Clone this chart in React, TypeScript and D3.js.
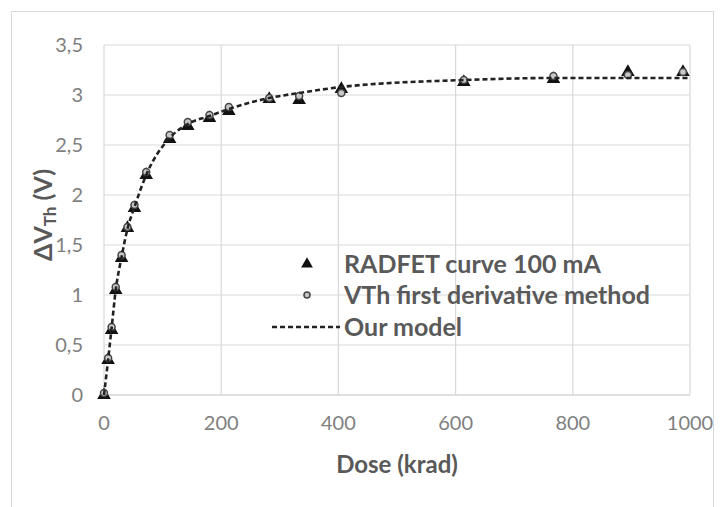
import React from "react";
import * as d3 from "d3";

// dose in krad
const doses = [0, 7, 13, 20, 30, 40, 52, 72, 112, 143, 180, 213, 282, 333, 405, 614, 767, 894, 988];
const radfet = [0, 0.35, 0.65, 1.05, 1.37, 1.67, 1.87, 2.2, 2.56, 2.69, 2.77, 2.84, 2.96, 2.95, 3.06, 3.13, 3.16, 3.23, 3.23];
const derivative = [0.02, 0.37, 0.68, 1.08, 1.4, 1.68, 1.9, 2.23, 2.6, 2.73, 2.8, 2.88, 2.97, 2.99, 3.02, 3.15, 3.19, 3.2, 3.23];
const modelDoses = [0, 7, 13, 20, 30, 40, 52, 72, 112, 143, 180, 213, 282, 333, 405, 614, 767, 894, 1000];
const model = [0, 0.35, 0.67, 1.05, 1.38, 1.66, 1.88, 2.2, 2.57, 2.71, 2.79, 2.86, 2.97, 3.02, 3.08, 3.15, 3.17, 3.17, 3.17];

const xTicks = [0, 200, 400, 600, 800, 1000];
const yTicks = [0, 0.5, 1, 1.5, 2, 2.5, 3, 3.5];
const legendLabels = ["RADFET curve 100 mA", "VTh first derivative method", "Our model"];

const font = "Lato, 'Open Sans', sans-serif";

export default function App() {
  const width = 721, height = 507;
  const margin = { top: 45, right: 31, bottom: 112, left: 104 };

  const x = d3.scaleLinear().domain([0, 1000]).range([margin.left, width - margin.right]);
  const y = d3.scaleLinear().domain([0, 3.5]).range([height - margin.bottom, margin.top]);

  const line = d3
    .line<number>()
    .x((d, i) => x(modelDoses[i]))
    .y((d) => y(d))
    .curve(d3.curveMonotoneX);

  const tri = d3.symbol().type(d3.symbolTriangle).size(80)() as string;

  const fmt = (v: number) => String(v).replace(".", ",");

  return (
    <div style={{ position: "absolute", left: 0, top: 0 }}>
      <svg width={width} height={height} style={{ display: "block", background: "#fff" }}>
        <rect x={11.5} y={11.5} width={702} height={520} fill="none" stroke="#d9d9d9" />

        {/* grid */}
        {yTicks.map((t) => (
          <line key={"gy" + t} x1={x(0)} x2={x(1000)} y1={y(t)} y2={y(t)}
            stroke={t === 0 ? "#bfbfbf" : "#d9d9d9"} strokeWidth={1.2} />
        ))}
        {xTicks.map((t) => (
          <line key={"gx" + t} x1={x(t)} x2={x(t)} y1={y(0)} y2={y(3.5)} stroke="#d9d9d9" strokeWidth={1.2} />
        ))}

        {/* tick labels */}
        {yTicks.map((t) => (
          <text key={"ty" + t} x={83} y={y(t)} dy="0.35em" textAnchor="end"
            fontFamily={font} fontSize={20} fill="#7f7f7f">{fmt(t)}</text>
        ))}
        {xTicks.map((t) => (
          <text key={"tx" + t} x={x(t)} y={423} dy="0.35em" textAnchor="middle"
            fontFamily={font} fontSize={20} fill="#7f7f7f">{t}</text>
        ))}

        {/* axis titles */}
        <text x={397} y={465} dy="0.35em" textAnchor="middle" fontFamily={font}
          fontSize={24} fontWeight="bold" fill="#595959">Dose (krad)</text>
        <text transform="translate(52,215) rotate(-90)" x={-46} textLength={92} lengthAdjust="spacingAndGlyphs"
          fontFamily={font} fontSize={25} fontWeight="bold" fill="#595959">
          ΔV<tspan fontSize={17} dy="4">Th</tspan><tspan dy="-4"> (V)</tspan>
        </text>

        {/* series */}
        {doses.map((d, i) => (
          <path key={"r" + i} d={tri} transform={`translate(${x(d)},${y(radfet[i])})`} fill="#111" />
        ))}
        {doses.map((d, i) => (
          <circle key={"c" + i} cx={x(d)} cy={y(derivative[i])} r={3.5}
            fill="#c8c8c8" stroke="#444" strokeWidth={1.5} />
        ))}
        <path d={line(model) as string} fill="none" stroke="#222" strokeWidth={2.6} strokeDasharray="5,3" />

        {/* legend */}
        <path d={d3.symbol().type(d3.symbolTriangle).size(60)() as string} transform="translate(307,264)" fill="#111" />
        <circle cx={307} cy={295} r={3} fill="#c8c8c8" stroke="#444" strokeWidth={1.5} />
        <line x1={272} x2={340} y1={327} y2={327} stroke="#222" strokeWidth={2.6} strokeDasharray="5,3" />
        {legendLabels.map((l, i) => (
          <text key={l} x={344} y={[264, 295, 327][i]} dy="0.35em" fontFamily={font}
            fontSize={25} fontWeight="bold" fill="#595959">{l}</text>
        ))}
      </svg>
    </div>
  );
}
